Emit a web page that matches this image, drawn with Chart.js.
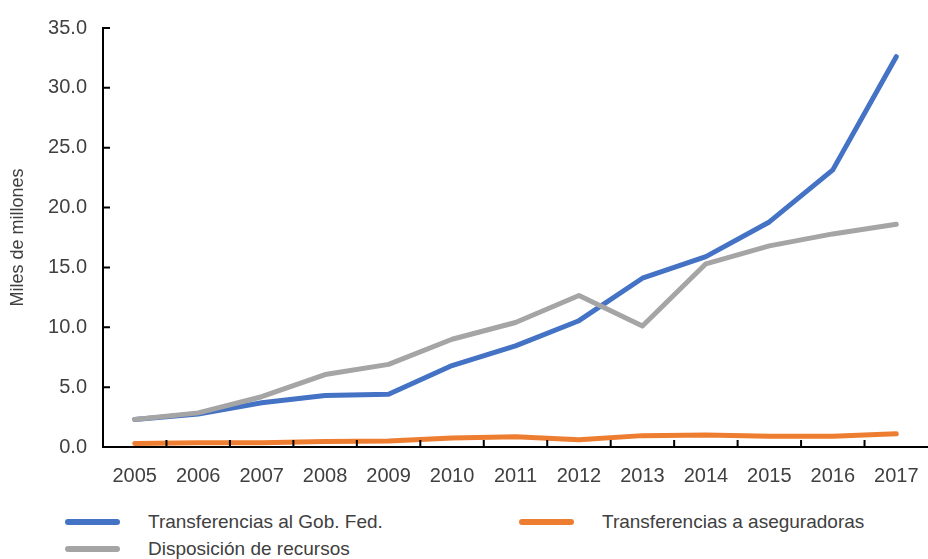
<!DOCTYPE html>
<html>
<head>
<meta charset="utf-8">
<script src="https://cdn.jsdelivr.net/npm/chart.js@4"></script>
<style>
  html, body { margin:0; padding:0; background:#fff; }
  body { width:928px; height:559px; overflow:hidden; font-family:'Liberation Sans Narrow','Arial Narrow',sans-serif; color:#404040; }
  #wrap { position:relative; width:928px; height:495px; }
  #legend { position:relative; height:64px; }
  .lg { position:absolute; display:flex; align-items:center; font-size:19px; white-space:nowrap; }
  .lg i { display:inline-block; width:55px; height:6px; border-radius:3px; margin-right:28px; }
</style>
</head>
<body>
<div id="wrap"><canvas id="c"></canvas></div>
<div id="legend"></div>
<script>
'use strict';
const years = ['2005','2006','2007','2008','2009','2010','2011','2012','2013','2014','2015','2016','2017'];
const gobFed = [2.3, 2.75, 3.7, 4.3, 4.4, 6.8, 8.45, 10.55, 14.1, 15.9, 18.8, 23.15, 32.6];
const aseguradoras = [0.3, 0.35, 0.35, 0.45, 0.5, 0.75, 0.85, 0.6, 0.95, 1.0, 0.9, 0.9, 1.1];
const disposicion = [2.3, 2.85, 4.2, 6.05, 6.9, 9.0, 10.4, 12.65, 10.1, 15.3, 16.8, 17.8, 18.6];
const yTicks = [0, 5, 10, 15, 20, 25, 30, 35];

const FONT = "'Liberation Sans Narrow','Arial Narrow',sans-serif";
const TXT = '#404040';

// small tick marks drawn inside the plot, like the source
const innerTicks = {
  id:'innerTicks',
  afterDatasetsDraw(chart) {
    const { ctx, scales:{ x, y }, chartArea:a } = chart;
    ctx.save();
    ctx.strokeStyle = '#000'; ctx.lineWidth = 2;
    ctx.beginPath();
    yTicks.forEach(v => { const py = y.getPixelForValue(v); ctx.moveTo(a.left, py); ctx.lineTo(a.left + 7, py); });
    for (let i = 0; i < years.length - 1; i++) {
      const px = x.getPixelForValue(i + 0.5);
      ctx.moveTo(px, a.bottom); ctx.lineTo(px, a.bottom - 7);
    }
    ctx.stroke();
    ctx.restore();
  }
};

const ds = (label, data, color, order) => ({
  label, data, borderColor:color, backgroundColor:color,
  borderWidth:5, pointRadius:0, tension:0, order,
  borderCapStyle:'round', borderJoinStyle:'round',
});

const chart = new Chart(document.getElementById('c'), {
  type:'line',
  data:{ labels:years, datasets:[
    ds('Transferencias al Gob. Fed.', gobFed, '#4472C4', 1),
    ds('Transferencias a aseguradoras', aseguradoras, '#ED7D31', 2),
    ds('Disposición de recursos', disposicion, '#A5A5A5', 0),
  ]},
  options:{
    responsive:true, maintainAspectRatio:false, animation:false,
    layout:{ padding:{ top:23, right:0, left:0, bottom:0 } },
    plugins:{ legend:{ display:false }, tooltip:{ enabled:false } },
    scales:{
      x:{
        offset:true,
        grid:{ display:false, drawTicks:false },
        border:{ color:'#000', width:2 },
        ticks:{ color:TXT, font:{ family:FONT, size:20 }, padding:17, maxRotation:0, autoSkip:false },
        afterFit(s) { s.height = 48; s.paddingLeft = 0; s.paddingRight = 0; },
      },
      y:{
        min:0, max:35,
        afterBuildTicks(s) { s.ticks = yTicks.map(v => ({ value:v })); },
        grid:{ display:false, drawTicks:false },
        border:{ color:'#000', width:2 },
        ticks:{ color:TXT, font:{ family:FONT, size:20 }, padding:16, callback:v => v.toFixed(1) },
        title:{ display:true, text:'Miles de millones', color:TXT, font:{ family:FONT, size:18 }, padding:{ top:7, bottom:0 } },
        afterFit(s) { s.width = 103; },
      },
    },
  },
  plugins:[innerTicks],
});

// legend in two columns, as in the source
const pos = [[65, 27], [519, 27], [65, 54]];
document.getElementById('legend').innerHTML = chart.data.datasets.map((d, i) =>
  `<div class="lg" style="left:${pos[i][0]}px;top:${pos[i][1] - 12}px;height:24px"><i style="background:${d.borderColor}"></i>${d.label}</div>`
).join('');
</script>
</body>
</html>
